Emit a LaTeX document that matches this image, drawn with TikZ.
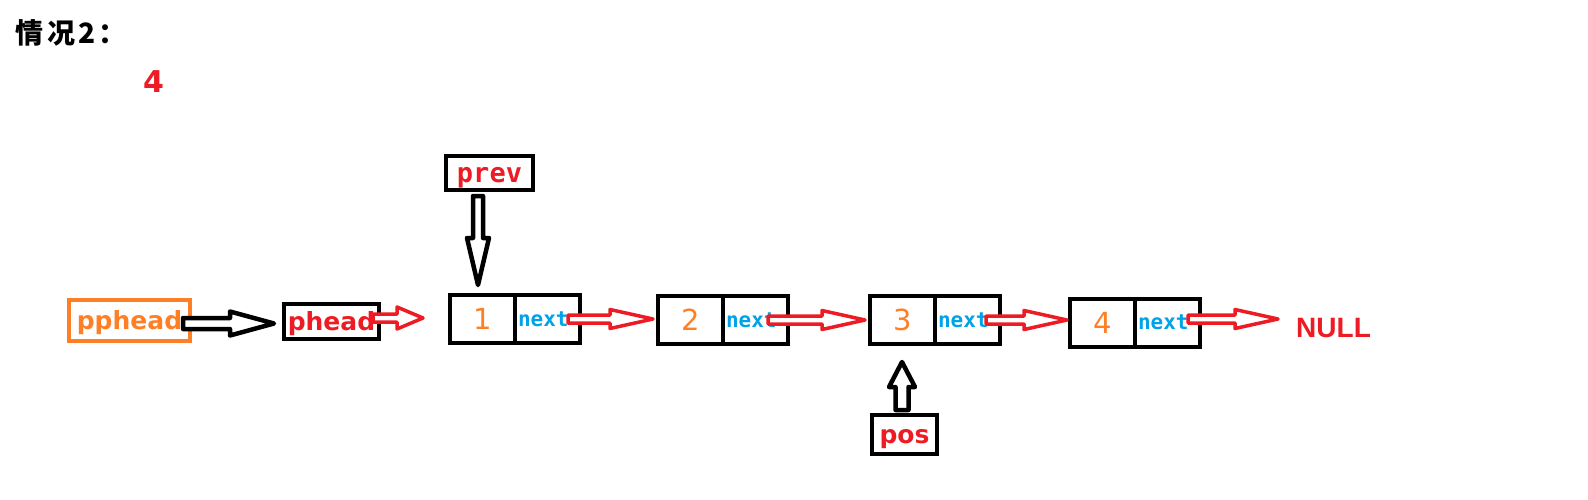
\documentclass[tikz,border=0pt]{standalone}
\usepackage{fontspec}
\setmainfont{DejaVu Sans}
\setmonofont{DejaVu Sans Mono}
\newfontfamily\cjkfont{Noto Sans CJK SC}
\newfontfamily\arialfont{Liberation Sans}
\usetikzlibrary{positioning,calc}

\definecolor{paintred}{RGB}{237,28,36}
\definecolor{paintorange}{RGB}{255,127,39}
\definecolor{paintblue}{RGB}{0,162,232}

\tikzset{
  cell/.style={draw, line width=4pt, outer sep=0pt, minimum height=48pt, minimum width=65pt, inner sep=0pt},
  valcell/.style={cell, text=paintorange, font=\fontsize{29}{29}\selectfont},
  nextcell/.style={cell, text=paintblue, font=\ttfamily\bfseries\fontsize{21}{21}\selectfont, text width=59pt, inner xsep=3pt, align=left},
  ptrbox/.style={draw, line width=4pt, inner sep=0pt, text height=22pt, text depth=4pt, font=\bfseries\fontsize{25}{25}\selectfont},
  redarrow/.style={draw=paintred, fill=white, line width=3.5pt, line join=round},
  blackarrow/.style={draw=black, fill=white, line width=4.5pt, line join=round}
}

% #1 style, #2 shaft half width, #3 head half width, #4 head length, #5 from, #6 to
\newcommand{\blockarrow}[6]{%
  \coordinate (ahb) at ($(#6)!#4!(#5)$);
  \draw[#1] ($(#5)!#2!90:(#6)$) -- ($(ahb)!#2!90:(#6)$) -- ($(ahb)!#3!90:(#6)$) -- (#6)
    -- ($(ahb)!#3!-90:(#6)$) -- ($(ahb)!#2!-90:(#6)$) -- ($(#5)!#2!-90:(#6)$) -- cycle;
}

\begin{document}
\begin{tikzpicture}[x=1pt,y=-1pt]
  \useasboundingbox (0,0) rectangle (1588,499);
  % title and count
  \node[anchor=west, inner sep=0pt, font=\cjkfont\bfseries\fontsize{28}{28}\selectfont] (title) at (15,33) {情\hspace{4pt}况\hspace{3pt}2\hspace{3pt}：};
  \node[inner sep=0pt, text=paintred, font=\bfseries\fontsize{30}{30}\selectfont] (cnt) at (153.5,81.5) {4};
  % pointers
  \node[ptrbox, draw=paintorange, text=paintorange, minimum width=121pt, minimum height=41pt] (pphead) at (129.5,320.5) {pphead};
  \node[ptrbox, text=paintred, minimum width=95pt, minimum height=35pt] (phead) at (331.5,321.5) {phead};
  \node[ptrbox, text=paintred, minimum width=87pt, minimum height=34pt, font=\ttfamily\bfseries\fontsize{27}{27}\selectfont] (prev) at (489.5,173) {prev};
  \node[ptrbox, text=paintred, minimum width=65pt, minimum height=39pt] (pos) at (904.5,434.5) {pos};
  % list nodes
  \foreach \i/\x/\y in {1/482.5/319,2/690.5/320,3/902.5/320,4/1102.5/322.5} {
    \node[valcell] (v\i) at (\x,\y) {\i};
    \node[nextcell, right=0pt of v\i] (x\i) {next};
  }
  \node[anchor=west, inner sep=0pt, text=paintred, font=\arialfont\bfseries\fontsize{28}{28}\selectfont] (null) at (1296,327.5) {NULL};
  % arrows
  \coordinate (a1) at ($(pphead.east)+(-9,3)$);
  \coordinate (b1) at ($(phead.west |- a1)+(-8,0)$);
  \blockarrow{blackarrow}{5.5pt}{12pt}{44pt}{a1}{b1}
  \coordinate (a2) at ($(phead.east)+(-8,-3.5)$);
  \coordinate (b2) at ($(v1.west |- a2)+(-27,0)$);
  \blockarrow{redarrow}{4pt}{11pt}{26pt}{a2}{b2}
  \foreach \i/\j/\a/\b in {1/2/12/5,2/3/20/5,3/4/14/3} {
    \coordinate (s\i) at ($(x\i.east)+(-\a,0)$);
    \coordinate (e\i) at ($(v\j.west |- s\i)+(-\b,0)$);
    \blockarrow{redarrow}{4pt}{9.5pt}{43pt}{s\i}{e\i}
  }
  \coordinate (s4) at ($(x4.east)+(-12,-3.5)$);
  \coordinate (e4) at ($(null.west |- s4)+(-18,0)$);
  \blockarrow{redarrow}{4pt}{9.5pt}{43pt}{s4}{e4}
  \coordinate (a3) at ($(prev.south)+(-11.5,4)$);
  \coordinate (b3) at ($(a3 |- v1.north)+(0,-10)$);
  \blockarrow{blackarrow}{5pt}{11pt}{47pt}{a3}{b3}
  \coordinate (a4) at ($(pos.north)+(-2.5,-3)$);
  \coordinate (b4) at ($(a4 |- v3.south)+(0,18)$);
  \blockarrow{blackarrow}{6.5pt}{13pt}{25pt}{a4}{b4}
\end{tikzpicture}
\end{document}
